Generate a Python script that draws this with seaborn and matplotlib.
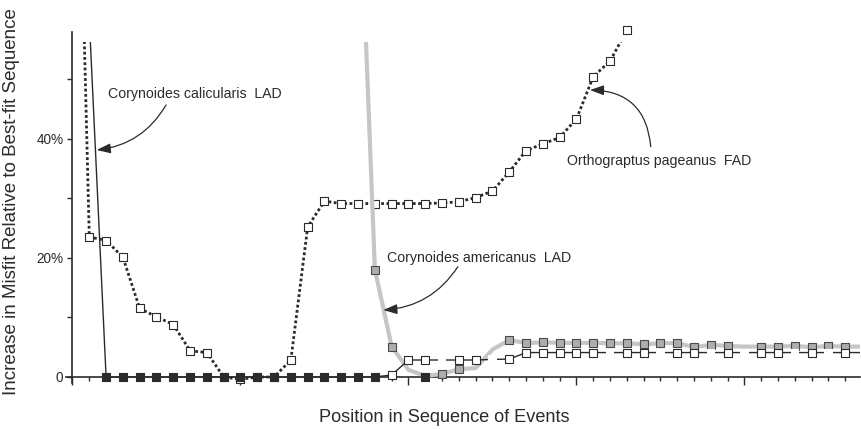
import matplotlib
matplotlib.use("Agg")
import matplotlib.pyplot as plt
from matplotlib.patches import Rectangle
import seaborn as sns

# ---- data: increase in misfit (%) when each event is moved to a given position ----
pageanus_pos = list(range(0, 34))
pageanus_fad = [135, 23.5, 22.9, 20.1, 11.5, 10.1, 8.8, 4.4, 4.1, 0.0,
                -0.4, 0.0, 0.0, 2.85, 25.2, 29.5, 29.1, 29.1, 29.1, 29.1,
                29.1, 29.1, 29.2, 29.4, 30.1, 31.2, 34.4, 38.0, 39.1, 40.2,
                43.3, 50.4, 53.0, 58.2]

calicularis_pos = list(range(1, 19))
calicularis_lad = [60, 0.0, 0.0, 0.0, 0.0, 0.0, 0.0, 0.0, 0.0, 0.0,
                   0.0, 0.0, 0.0, 0.0, 0.0, 0.0, 0.0, 0.0]
calicularis_extra_pos = [21]
calicularis_extra_lad = [0.0]

americanus_pos = list(range(17, 48))
americanus_lad = [90, 18.0, 5.1, 1.2, 0.2, 0.5, 1.3, 1.5, 4.6, 6.2,
                  5.7, 5.8, 5.75, 5.7, 5.75, 5.65, 5.65, 5.5, 5.65, 5.7,
                  5.0, 5.4, 5.2, 5.1, 5.1, 5.1, 5.2, 5.0, 5.2, 5.1, 5.1]

unlabelled_pos = list(range(18, 48))
unlabelled_val = [0.0, 0.35, 2.85, 2.85, 2.85, 2.85, 2.85, 2.95, 3.0, 4.1,
                  4.1, 4.1, 4.1, 4.1, 4.1, 4.1, 4.1, 4.1, 4.1, 4.1,
                  4.1, 4.1, 4.1, 4.1, 4.1, 4.1, 4.1, 4.1, 4.1, 4.1]

y_ticks = [0, 10, 20, 30, 40, 50]
y_tick_labels = ["0", "", "20%", "", "40%", ""]

# which points carry a visible marker
pageanus_marked = list(range(1, 34))
calicularis_marked = list(range(2, 19))
americanus_marked = [18, 19, 22, 23] + list(range(26, 40)) + list(range(41, 47))
unlabelled_open = [19, 20, 21, 23, 24, 26, 27, 28, 29, 30, 31, 33, 34, 36, 37,
                   39, 41, 42, 44, 46]
unlabelled_blank = [22, 25, 32, 35, 38, 40, 43, 45]

# ---- style ----
sns.set_theme(style="white")
plt.rcParams["font.family"] = ["Liberation Sans", "DejaVu Sans"]
INK = "#2b2b2b"

fig = plt.figure(figsize=(8.62, 4.29), dpi=100)
ax = fig.add_axes([0.07631, 0.10455, 0.92181, 0.83636])
ax.set_xlim(-0.4, 46.9)
ax.set_ylim(-1.2, 59)

clip = Rectangle((-0.4, -1.2), 47.3, 57.4, transform=ax.transData)


def draw_line(x, y, z, **kw):
    sns.lineplot(x=x, y=y, ax=ax, estimator=None, sort=False, legend=False, **kw)
    ln = ax.lines[-1]
    ln.set_clip_path(clip)
    ln.set_zorder(z)


def draw_marks(xs, ys, keep, z, size=26, face="white", edge=INK, lw=0.8):
    px = [p for p in xs if p in keep]
    py = [v for p, v in zip(xs, ys) if p in keep]
    sns.scatterplot(x=px, y=py, ax=ax, marker="s", s=size, color=face,
                    edgecolor=edge, linewidth=lw, zorder=z, clip_on=False,
                    legend=False)


# Orthograptus pageanus FAD: dotted line, open squares
draw_line(pageanus_pos, pageanus_fad, 2, color=INK, linewidth=2.0,
          linestyle=(0, (1.0, 0.9)), dash_capstyle="butt")
draw_marks(pageanus_pos, pageanus_fad, pageanus_marked, 2.1)

# Corynoides americanus LAD: thick grey line, grey squares
draw_line(americanus_pos, americanus_lad, 3, color="#c6c6c6", linewidth=3.0,
          solid_joinstyle="round")
draw_marks(americanus_pos, americanus_lad, americanus_marked, 3.1,
           face="#adadad", edge="#4a4a4a")

# unlabelled horizon: thin dark line, open squares
draw_line(unlabelled_pos, unlabelled_val, 4, color=INK, linewidth=1.0)
draw_marks(unlabelled_pos, unlabelled_val, unlabelled_blank, 4.1, size=34,
           face="white", edge="none", lw=0)
draw_marks(unlabelled_pos, unlabelled_val, unlabelled_open, 4.2)

# Corynoides calicularis LAD: thin solid line, filled squares
draw_line(calicularis_pos, calicularis_lad, 5, color=INK, linewidth=1.0)
draw_marks(calicularis_pos, calicularis_lad, calicularis_marked, 5.1,
           size=30, face=INK, edge=INK)
draw_marks(calicularis_extra_pos, calicularis_extra_lad, calicularis_extra_pos,
           5.1, size=30, face=INK, edge=INK)

# ---- axes: both axes cross at position 0 / 0% ----
for side in ("top", "right"):
    ax.spines[side].set_visible(False)
ax.spines["left"].set_position(("data", 0))
ax.spines["left"].set_bounds(-1.0, 57.9)
ax.spines["bottom"].set_position(("data", 0))
for side in ("left", "bottom"):
    ax.spines[side].set_color(INK)
    ax.spines[side].set_linewidth(1.2)

ax.set_yticks(y_ticks)
ax.set_yticklabels(y_tick_labels)
ax.tick_params(axis="y", direction="out", length=3.5, width=1.0, colors=INK,
               labelsize=9.8, pad=3, left=True)
ax.set_xticks([0, 10, 20, 30, 40])
ax.set_xticks(list(range(1, 47)), minor=True)
ax.set_xticklabels([])
ax.tick_params(axis="x", which="major", direction="out", length=5.5, width=1.0,
               colors=INK, bottom=True)
ax.tick_params(axis="x", which="minor", direction="out", length=3.0, width=1.0,
               colors=INK, bottom=True)
ax.grid(False)

fig.text(444 / 862, (429 - 421.5) / 429, "Position in Sequence of Events",
         ha="center", va="baseline", fontsize=13.1, color=INK)
fig.text(12 / 862, (429 - 202) / 429,
         "Increase in Misfit Relative to Best-fit Sequence",
         ha="center", va="center", rotation=90, fontsize=13.5, color=INK)

# ---- callouts ----
arrow = dict(arrowstyle="-|>,head_length=0.7,head_width=0.25", color=INK,
             lw=0.9, shrinkA=0, shrinkB=0, mutation_scale=12)
ax.text(2.13, 46.86, "Corynoides calicularis  LAD", ha="left", va="baseline",
        fontsize=10.2, color=INK)
ax.annotate("", xy=(1.44, 38.09), xytext=(5.57, 45.64),
            arrowprops=dict(arrow, connectionstyle="arc3,rad=-0.25"))
ax.text(18.74, 19.35, "Corynoides americanus  LAD", ha="left", va="baseline",
        fontsize=10.2, color=INK)
ax.annotate("", xy=(18.5, 11.24), xytext=(22.94, 18.51),
            arrowprops=dict(arrow, connectionstyle="arc3,rad=-0.25"))
ax.text(29.45, 35.49, "Orthograptus pageanus  FAD", ha="left", va="baseline",
        fontsize=10.2, color=INK)
ax.annotate("", xy=(30.80, 48.15), xytext=(34.42, 38.64),
            arrowprops=dict(arrow, connectionstyle="arc3,rad=0.45"))

fig.savefig("out.png", dpi=100, facecolor="white")
